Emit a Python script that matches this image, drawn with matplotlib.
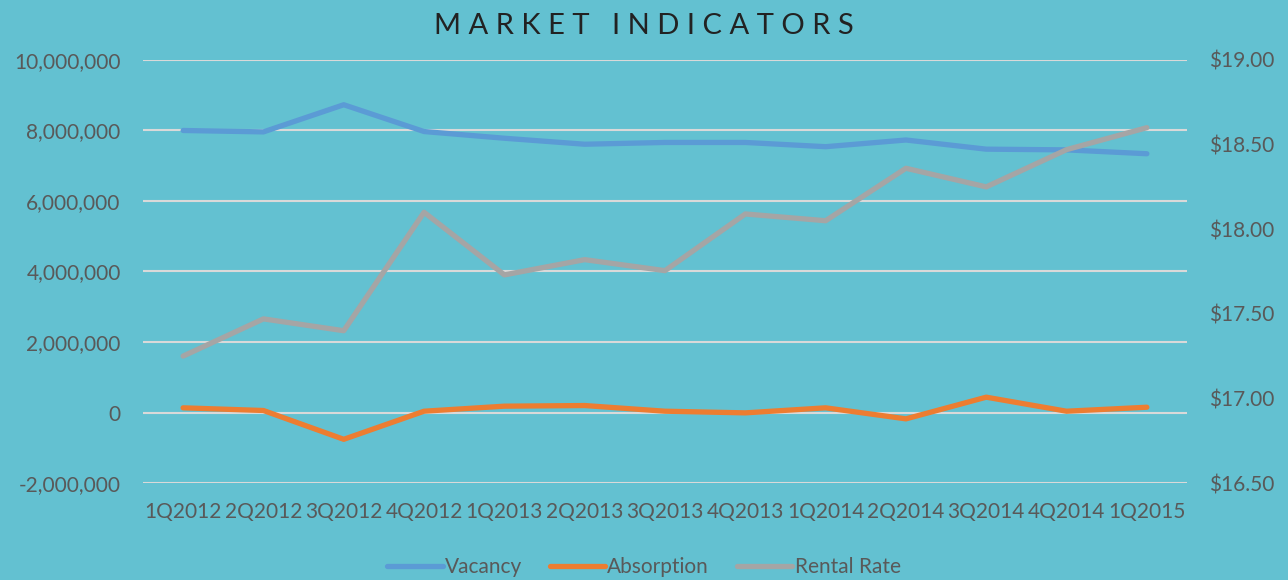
import numpy as np
import matplotlib
matplotlib.use("Agg")
import matplotlib.pyplot as plt
from matplotlib.ticker import FuncFormatter

# --- данные ---
quarters = ["1Q2012", "2Q2012", "3Q2012", "4Q2012", "1Q2013", "2Q2013", "3Q2013",
            "4Q2013", "1Q2014", "2Q2014", "3Q2014", "4Q2014", "1Q2015"]
vacancy = [8000000, 7960000, 8730000, 7970000, 7780000, 7610000, 7660000,
           7660000, 7540000, 7730000, 7470000, 7450000, 7340000]
absorption = [133000, 57000, -760000, 37000, 180000, 198000, 37000,
              -10000, 133000, -180000, 435000, 37000, 150000]
rental_rate = [17.25, 17.47, 17.40, 18.10, 17.73, 17.82, 17.755,
               18.09, 18.05, 18.36, 18.25, 18.47, 18.60]

left_ticks = [-2000000, 0, 2000000, 4000000, 6000000, 8000000, 10000000]
right_ticks = [16.5, 17.0, 17.5, 18.0, 18.5, 19.0]

BG = "#63c1d1"
C_VAC = "#5b9bd5"
C_ABS = "#ed7d31"
C_RENT = "#a5a5a5"
TXT = "#595959"
GRID = "#d9d9d9"

plt.rcParams['font.family'] = ['Lato', 'DejaVu Sans']

fig = plt.figure(figsize=(12.88, 5.8), dpi=100, facecolor=BG)
ax = fig.add_axes([0.111, 0.1672, 0.8106, 0.7294])
ax.set_facecolor("none")
ax2 = ax.twinx()

x = np.arange(len(quarters))
lw = 3.8
l1, = ax.plot(x, vacancy, color=C_VAC, lw=lw, solid_capstyle='round', label='Vacancy')
l2, = ax.plot(x, absorption, color=C_ABS, lw=lw, solid_capstyle='round', label='Absorption')
l3, = ax2.plot(x, rental_rate, color=C_RENT, lw=lw, solid_capstyle='round', label='Rental Rate')

ax.set_xlim(-0.5, len(quarters) - 0.5)
ax.set_ylim(-2000000, 10000000)
ax2.set_ylim(16.5, 19.0)
ax.set_yticks(left_ticks)
ax2.set_yticks(right_ticks)
ax.yaxis.set_major_formatter(FuncFormatter(lambda v, p: f"{int(v):,}"))
ax2.yaxis.set_major_formatter(FuncFormatter(lambda v, p: f"${v:.2f}"))
ax.set_xticks(x)
ax.set_xticklabels(quarters)

for a in (ax, ax2):
    for s in a.spines.values():
        s.set_visible(False)
    a.tick_params(length=0, labelsize=15, labelcolor=TXT)
ax.tick_params(axis='y', pad=16)
ax2.tick_params(axis='y', pad=16)
ax.tick_params(axis='x', pad=14)

ax.grid(axis='y', color=GRID, lw=1.5)
ax.set_axisbelow(True)

fig.text(0.5, 0.955, "M A R K E T   I N D I C A T O R S", ha='center', va='center',
         fontsize=21, color="#222222")

leg = fig.legend(handles=[l1, l2, l3], loc='center', bbox_to_anchor=(0.5, 0.022),
                 ncol=3, frameon=False, fontsize=15, handlelength=2.65,
                 handletextpad=0.1, columnspacing=1.35)
for t in leg.get_texts():
    t.set_color(TXT)

fig.savefig("out.png", dpi=100, facecolor=BG)
